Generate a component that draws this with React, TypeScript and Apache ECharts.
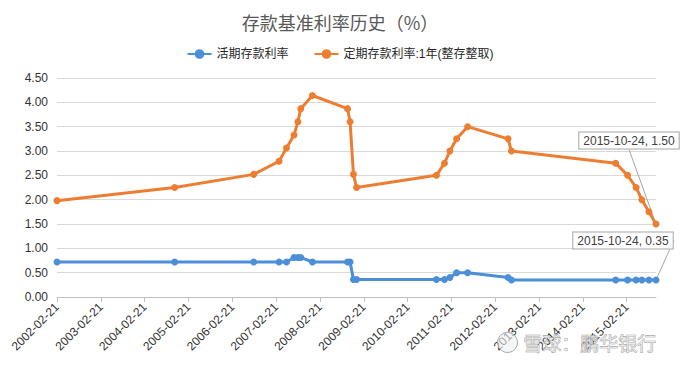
import React, { useEffect, useRef } from "react";
import * as echarts from "echarts";

const dates = [
  "2002-02-21", "2004-10-29", "2006-08-19", "2007-03-18", "2007-05-19", "2007-07-21",
  "2007-08-22", "2007-09-15", "2007-12-21", "2008-10-09", "2008-10-30", "2008-11-27",
  "2008-12-23", "2010-10-20", "2010-12-26", "2011-02-09", "2011-04-06", "2011-07-07",
  "2012-06-08", "2012-07-06", "2014-11-22", "2015-03-01", "2015-05-11", "2015-06-28",
  "2015-08-26", "2015-10-24",
];
const demandRate = [
  0.72, 0.72, 0.72, 0.72, 0.72, 0.81, 0.81, 0.81, 0.72, 0.72, 0.72, 0.36, 0.36,
  0.36, 0.36, 0.4, 0.5, 0.5, 0.4, 0.35, 0.35, 0.35, 0.35, 0.35, 0.35, 0.35,
];
const oneYearRate = [
  1.98, 2.25, 2.52, 2.79, 3.06, 3.33, 3.6, 3.87, 4.14, 3.87, 3.6, 2.52, 2.25,
  2.5, 2.75, 3.0, 3.25, 3.5, 3.25, 3.0, 2.75, 2.5, 2.25, 2.0, 1.75, 1.5,
];
const tickLabels = [
  "2002-02-21", "2003-02-21", "2004-02-21", "2005-02-21", "2006-02-21", "2007-02-21",
  "2008-02-21", "2009-02-21", "2010-02-21", "2011-02-21", "2012-02-21", "2013-02-21",
  "2014-02-21", "2015-02-21",
];
const seriesNames = ["活期存款利率", "定期存款利率:1年(整存整取)"];
const titleText = "存款基准利率历史（%）";
const watermarkText = "雪球：鹏华银行";

const BASE = Date.UTC(2002, 1, 21);
const toDay = (s: string) => {
  const [y, m, d] = s.split("-").map(Number);
  return Math.round((Date.UTC(y, m - 1, d) - BASE) / 86400000);
};

const tickDays = tickLabels.map(toDay);
const lastDay = toDay(dates[dates.length - 1]);

const FONT = "'Liberation Sans', Arial, 'Noto Sans CJK SC', sans-serif";

function buildData(values: number[]) {
  return dates.map((d, i) => {
    const v: [number, number] = [toDay(d), values[i]];
    if (i === dates.length - 1) {
      return {
        value: v,
        label: {
          show: true,
          position: "top",
          formatter: `${d}, ${values[i].toFixed(2)}`,
        },
      };
    }
    return v;
  });
}

export default function App() {
  const ref = useRef<HTMLDivElement>(null);
  useEffect(() => {
    if (!ref.current) return;
    const chart = echarts.init(ref.current, undefined, { renderer: "svg" });
    const labelStyle = {
      fontFamily: FONT,
      fontSize: 12,
      color: "#404040",
      backgroundColor: "#ffffff",
      borderColor: "#a6a6a6",
      borderWidth: 1,
      padding: [2, 4, 1, 4],
      lineHeight: 13,
    };
    const labelLine = {
      show: true,
      smooth: false,
      length2: 0,
      lineStyle: { color: "#a6a6a6", width: 1 },
    };
    chart.setOption({
      animation: false,
      backgroundColor: "#ffffff",
      textStyle: { fontFamily: FONT },
      title: {
        text: titleText,
        left: "center",
        top: 8,
        textStyle: {
          fontFamily: "'Noto Sans CJK SC', sans-serif",
          fontSize: 18,
          fontWeight: "normal",
          color: "#595959",
        },
      },
      legend: {
        top: 43,
        left: "center",
        itemWidth: 24,
        itemHeight: 12,
        itemGap: 25,
        textStyle: { fontSize: 12, color: "#262626", fontFamily: FONT },
        data: seriesNames,
      },
      grid: { left: 57, right: 24, top: 78, bottom: 68 },
      xAxis: {
        type: "value",
        min: 0,
        max: lastDay,
        axisLine: { show: true, onZero: false, lineStyle: { color: "#bfbfbf" } },
        axisTick: {
          show: true,
          length: 5,
          customValues: tickDays,
          lineStyle: { color: "#bfbfbf" },
        },
        splitLine: { show: false },
        axisLabel: {
          customValues: tickDays,
          rotate: 45,
          margin: 8,
          fontSize: 12,
          color: "#333333",
          fontFamily: FONT,
          formatter: (v: number) => {
            const idx = tickDays.indexOf(v);
            return idx >= 0 ? tickLabels[idx] : "";
          },
        },
      },
      yAxis: {
        type: "value",
        min: 0,
        max: 4.5,
        interval: 0.5,
        axisLine: { show: false },
        axisTick: { show: false },
        splitLine: { lineStyle: { color: "#d9d9d9" } },
        axisLabel: {
          fontSize: 12,
          color: "#333333",
          margin: 9,
          fontFamily: FONT,
          formatter: (v: number) => v.toFixed(2),
        },
      },
      series: [
        {
          name: seriesNames[0],
          type: "line",
          data: buildData(demandRate),
          symbol: "circle",
          symbolSize: 7,
          lineStyle: { width: 3, color: "#4a8fd8" },
          itemStyle: { color: "#4a8fd8" },
          label: labelStyle,
          labelLayout: { dx: -33, dy: -23 },
          labelLine,
          z: 2,
        },
        {
          name: seriesNames[1],
          type: "line",
          data: buildData(oneYearRate),
          symbol: "circle",
          symbolSize: 7,
          lineStyle: { width: 3, color: "#ed7d31" },
          itemStyle: { color: "#ed7d31" },
          label: labelStyle,
          labelLayout: { dx: -27, dy: -67 },
          labelLine,
          z: 3,
        },
      ],
      graphic: [
        {
          type: "circle",
          left: 497,
          top: 332,
          shape: { r: 10 },
          style: { fill: "rgba(240,240,240,0.6)", stroke: "#a8a8a8", lineWidth: 1 },
          silent: true,
          z: 10,
        },
        {
          type: "text",
          left: 523,
          top: 333,
          style: {
            text: watermarkText,
            fontSize: 19,
            fontFamily: "'Noto Sans CJK SC', sans-serif",
            fill: "rgba(235,235,235,0.7)",
            stroke: "#9a9a9a",
            lineWidth: 0.7,
          },
          silent: true,
          z: 10,
        },
      ],
    });
    return () => chart.dispose();
  }, []);
  return (
    <div
      ref={ref}
      style={{ position: "fixed", left: 0, top: 0, width: 680, height: 365 }}
    />
  );
}
